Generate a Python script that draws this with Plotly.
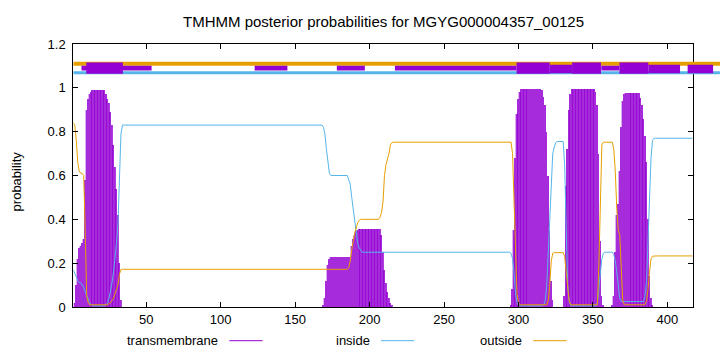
import plotly.graph_objects as go

# ---------------- data ----------------
L = 417
residues = list(range(1, L + 1))

inside = ([0.17, 0.15, 0.13, 0.12, 0.11, 0.11, 0.10, 0.09, 0.07, 0.05, 0.03, 0.02, 0.01]
          + [0.005] * 9
          + [0.01, 0.02, 0.04, 0.07, 0.11, 0.16, 0.22, 0.29, 0.38, 0.58, 0.79]
          + [0.83] * 135
          + [0.82, 0.79, 0.72, 0.65, 0.61]
          + [0.60] * 12
          + [0.58, 0.56, 0.50, 0.44, 0.38, 0.33, 0.29, 0.27, 0.26]
          + [0.25] * 100
          + [0.245, 0.22, 0.16, 0.06, 0.02]
          + [0.005] * 17
          + [0.01, 0.03, 0.10, 0.25, 0.45, 0.60, 0.70, 0.73, 0.75]
          + [0.755] * 5
          + [0.65, 0.30, 0.10, 0.03]
          + [0.005] * 18
          + [0.02, 0.08, 0.16, 0.22, 0.245]
          + [0.25] * 6
          + [0.24, 0.21, 0.16, 0.09, 0.04]
          + [0.025] * 16
          + [0.05, 0.12, 0.30, 0.50, 0.68, 0.76]
          + [0.77] * 27)

outside = ([0.84, 0.83, 0.76, 0.66, 0.62, 0.61, 0.61, 0.60, 0.35, 0.05, 0.02]
           + [0.01] * 13
           + [0.015, 0.02, 0.03, 0.04, 0.06, 0.08, 0.10, 0.15, 0.17]
           + [0.172] * 152
           + [0.18, 0.21, 0.26, 0.31, 0.34, 0.36, 0.385, 0.395]
           + [0.40] * 13
           + [0.41, 0.43, 0.48, 0.60, 0.65, 0.67, 0.70, 0.74, 0.75]
           + [0.752] * 80
           + [0.70, 0.50, 0.25, 0.06, 0.02]
           + [0.01] * 19
           + [0.03, 0.10, 0.21, 0.245]
           + [0.248] * 7
           + [0.23, 0.16, 0.08, 0.03]
           + [0.01] * 19
           + [0.20, 0.55, 0.74]
           + [0.752] * 7
           + [0.72, 0.62, 0.45, 0.35, 0.33, 0.15, 0.03]
           + [0.01] * 15
           + [0.03, 0.08, 0.16, 0.22, 0.232]
           + [0.233] * 27)

transmembrane = ([0.0, 0.02, 0.10, 0.22, 0.27, 0.28, 0.29, 0.31, 0.58, 0.90, 0.95, 0.97, 0.98]
                 + [0.99] * 9
                 + [0.97, 0.95, 0.93, 0.89, 0.83, 0.74, 0.64, 0.54, 0.42, 0.20, 0.03]
                 + [0.0] * 135
                 + [0.01, 0.04, 0.12, 0.19, 0.22]
                 + [0.227] * 14
                 + [0.28, 0.31, 0.33, 0.345, 0.35]
                 + [0.356] * 15
                 + [0.33, 0.25, 0.17, 0.11, 0.07, 0.04, 0.02, 0.01]
                 + [0.0] * 79
                 + [0.01, 0.08, 0.35, 0.68, 0.88, 0.95, 0.98]
                 + [0.995] * 14
                 + [0.99, 0.96, 0.92, 0.80, 0.60, 0.35, 0.12, 0.03]
                 + [0.0] * 7
                 + [0.05, 0.55, 0.72, 0.90, 0.97]
                 + [0.995] * 16
                 + [0.98, 0.92, 0.70, 0.30, 0.05, 0.01]
                 + [0.0] * 5
                 + [0.01, 0.05, 0.25, 0.42, 0.47, 0.62, 0.82, 0.94, 0.97]
                 + [0.975] * 10
                 + [0.955, 0.92, 0.86, 0.78, 0.66, 0.40, 0.14, 0.04, 0.01]
                 + [0.0] * 27)

assert len(inside) == L and len(outside) == L and len(transmembrane) == L

# topology band at the top (residue ranges)
band_end = 435.3
outside_band = [(1, band_end)]
inside_band = [(1, band_end)]
tm_thin_segments = [(6.5, 53.6), (122.8, 144.8), (178, 196.8), (217, 298.7), (355.6, 367.8)]
tm_wide_segments = [(321, 336), (387.2, 408.5), (413.6, 430.7)]
tm_helix_segments = [(9.7, 34.3), (298.7, 321), (336, 355.4), (367.8, 387.2)]

x_ticks = [50, 100, 150, 200, 250, 300, 350, 400]
y_ticks = [0, 0.2, 0.4, 0.6, 0.8, 1.0, 1.2]
title = "TMHMM posterior probabilities for MGYG000004357_00125"
legend_names = ["transmembrane", "inside", "outside"]

C_TM = "#9400d3"
C_IN = "#56b4e9"
C_OUT = "#e69f00"
FONT = "Liberation Sans"

# ---------------- geometry ----------------
W, H = 720, 352
left, right, top, bottom = 73.3, 692.7, 44.0, 307.0
x_dom = [left / W, right / W]
x2_dom = [left / W, 1.0]
y_dom = [(H - bottom) / H, (H - top) / H]

fig = go.Figure()

# transmembrane impulses (light base + semi-transparent darker core -> striped look)
fig.add_trace(go.Bar(x=residues, y=transmembrane, width=1.0,
                     marker=dict(color="#dcaef2", line=dict(width=0)),
                     showlegend=False, hoverinfo="skip"))
fig.add_trace(go.Bar(x=residues, y=transmembrane, width=0.5,
                     marker=dict(color=C_TM, opacity=0.75, line=dict(width=0)),
                     showlegend=False, hoverinfo="skip"))
fig.add_trace(go.Scatter(x=residues, y=inside, mode="lines",
                         line=dict(color=C_IN, width=1), showlegend=False))
fig.add_trace(go.Scatter(x=residues, y=outside, mode="lines",
                         line=dict(color=C_OUT, width=1), showlegend=False))


def band(segs, yv, color, width):
    for a, b in segs:
        fig.add_trace(go.Scatter(x=[a, b], y=[yv, yv], mode="lines",
                                 line=dict(color=color, width=width),
                                 xaxis="x2", yaxis="y2", showlegend=False,
                                 hoverinfo="skip"))


band(outside_band, 1.11, C_OUT, 4)
band(inside_band, 1.0685, C_IN, 3)
band(tm_thin_segments, 1.0895, C_TM, 4.7)
band(tm_wide_segments, 1.086, C_TM, 8.3)
band(tm_helix_segments, 1.0895, C_TM, 11.3)

axis_common = dict(showgrid=False, zeroline=False, showline=True, linecolor="black",
                   linewidth=1, ticks="inside", ticklen=5, tickcolor="black",
                   mirror="allticks", automargin=False,
                   tickfont=dict(family=FONT, size=13, color="black"))

px_per_res = (right - left) / (L - 1)
x2_max = 1 + (W - left) / px_per_res

fig.update_layout(
    width=W, height=H,
    margin=dict(l=0, r=0, t=0, b=0, pad=0, autoexpand=False),
    paper_bgcolor="white", plot_bgcolor="rgba(0,0,0,0)",
    barmode="overlay", bargap=0, showlegend=False,
    xaxis=dict(domain=x_dom, range=[1, L], tickmode="array", tickvals=x_ticks,
               anchor="y", **axis_common),
    yaxis=dict(domain=y_dom, range=[0, 1.2], tickmode="array", tickvals=y_ticks,
               anchor="x", ticklabelstandoff=4, **axis_common),
    xaxis2=dict(domain=x2_dom, range=[1, x2_max], visible=False, anchor="y2"),
    yaxis2=dict(domain=y_dom, range=[0, 1.2], visible=False, anchor="x2"),
    font=dict(family=FONT, size=13, color="black"),
)

annotations = [
    dict(text=title, x=(left + right) / 2 / W, y=1 - 21.5 / H, xref="paper", yref="paper",
         xanchor="center", yanchor="middle", showarrow=False,
         font=dict(family=FONT, size=15, color="black")),
    dict(text="probability", x=16.7 / W, y=1 - 181.7 / H, xref="paper", yref="paper",
         xanchor="center", yanchor="middle", textangle=-90, showarrow=False,
         font=dict(family=FONT, size=13, color="black")),
]
shapes = []
legend_text_right = [220.0, 371.7, 524.0]
legend_colors = [C_TM, C_IN, C_OUT]
ly = 340.7
for name, xr, col in zip(legend_names, legend_text_right, legend_colors):
    annotations.append(dict(text=name, x=xr / W, y=1 - ly / H, xref="paper", yref="paper",
                            xanchor="right", yanchor="middle", showarrow=False,
                            font=dict(family=FONT, size=13, color="black")))
    shapes.append(dict(type="line", xref="paper", yref="paper",
                       x0=(xr + 9.3) / W, x1=(xr + 42.6) / W,
                       y0=1 - ly / H, y1=1 - ly / H, line=dict(color=col, width=1)))
fig.update_layout(annotations=annotations, shapes=shapes)

fig.write_html("out.html")
